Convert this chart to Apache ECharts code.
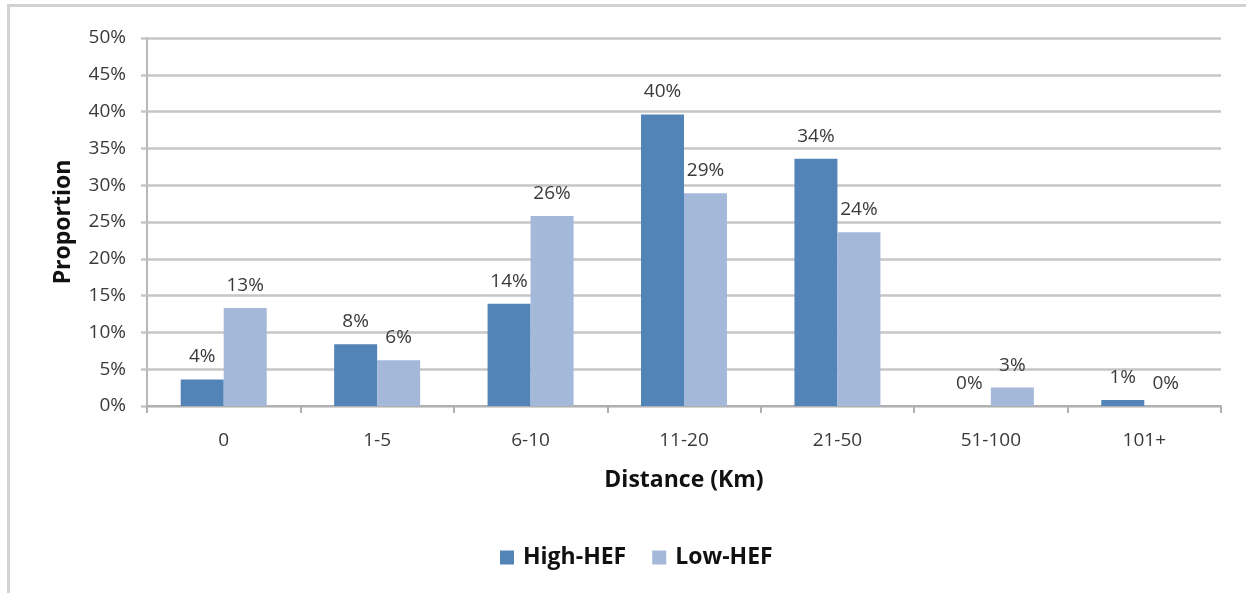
<!DOCTYPE html>
<html>
<head>
<meta charset="utf-8">
<title>Distance (Km) by HEF group</title>
<script src="https://cdn.jsdelivr.net/npm/echarts@6/dist/echarts.min.js"></script>
<style>
  html, body { margin: 0; padding: 0; background: #ffffff; }
  #chart { width: 1246px; height: 593px; }
</style>
</head>
<body>
<div id="chart"></div>
<script>
// Distance bands (km)
const categories = ['0', '1-5', '6-10', '11-20', '21-50', '51-100', '101+'];
// Share of each group in each distance band (percent)
const highHEF = [3.6, 8.4, 13.9, 39.6, 33.6, 0, 0.8];
const lowHEF = [13.3, 6.2, 25.8, 28.9, 23.6, 2.5, 0];
// Proportion axis ticks (percent)
const yMin = 0, yMax = 50, yStep = 5;

const FONT = '"Open Sans", Lato, sans-serif';
const gridColor = '#c6c6c6';
const labelColor = '#3a3a3a';
const titleColor = '#111111';

const chart = echarts.init(document.getElementById('chart'), null, { renderer: 'canvas' });

const valueLabel = {
  show: true,
  position: 'top',
  distance: 13,
  color: labelColor,
  fontFamily: FONT,
  fontSize: 19,
  formatter: p => Math.round(p.value) + '%'
};

chart.setOption({
  animation: false,
  backgroundColor: '#ffffff',
  grid: { left: 147, right: 25, top: 38, bottom: 187, containLabel: false },
  legend: {
    left: 495,
    top: 541,
    itemWidth: 14,
    itemHeight: 14,
    itemGap: 26,
    icon: 'rect',
    textStyle: { fontFamily: FONT, fontSize: 23, fontWeight: 'bold', color: titleColor, padding: [0, 0, 0, 4] },
    data: ['High-HEF', 'Low-HEF']
  },
  xAxis: {
    type: 'category',
    data: categories,
    name: 'Distance (Km)',
    nameLocation: 'middle',
    nameGap: 63,
    nameTextStyle: { fontFamily: FONT, fontSize: 23, fontWeight: 'bold', color: titleColor },
    axisLine: { show: true, lineStyle: { color: '#b0b0b0', width: 2 } },
    axisTick: { show: true, length: 7, lineStyle: { color: '#b0b0b0', width: 2 } },
    axisLabel: { color: labelColor, fontFamily: FONT, fontSize: 19, margin: 25 },
    splitLine: { show: false }
  },
  yAxis: {
    type: 'value',
    min: yMin,
    max: yMax,
    interval: yStep,
    name: 'Proportion',
    nameLocation: 'middle',
    nameGap: 72,
    nameRotate: 90,
    nameTextStyle: { fontFamily: FONT, fontSize: 23, fontWeight: 'bold', color: titleColor },
    axisLine: { show: true, lineStyle: { color: '#b8b8b8', width: 2 } },
    axisTick: { show: true, length: 6, lineStyle: { color: gridColor, width: 2.5 } },
    axisLabel: { color: labelColor, fontFamily: FONT, fontSize: 19, margin: 21, formatter: '{value}%' },
    splitLine: { show: true, lineStyle: { color: gridColor, width: 2.5 } }
  },
  series: [
    {
      name: 'High-HEF',
      type: 'bar',
      data: highHEF,
      barWidth: 43,
      barGap: '0%',
      itemStyle: { color: '#5284B8' },
      label: valueLabel
    },
    {
      name: 'Low-HEF',
      type: 'bar',
      data: lowHEF,
      barWidth: 43,
      barGap: '0%',
      itemStyle: { color: '#A4B8D9' },
      label: valueLabel
    }
  ],
  graphic: [
    { type: 'line', shape: { x1: 7, y1: 5.5, x2: 1246, y2: 5.5 }, style: { stroke: '#d2d2d2', lineWidth: 3 }, silent: true },
    { type: 'line', shape: { x1: 8.5, y1: 5, x2: 8.5, y2: 593 }, style: { stroke: '#d2d2d2', lineWidth: 3 }, silent: true }
  ]
});
</script>
</body>
</html>
